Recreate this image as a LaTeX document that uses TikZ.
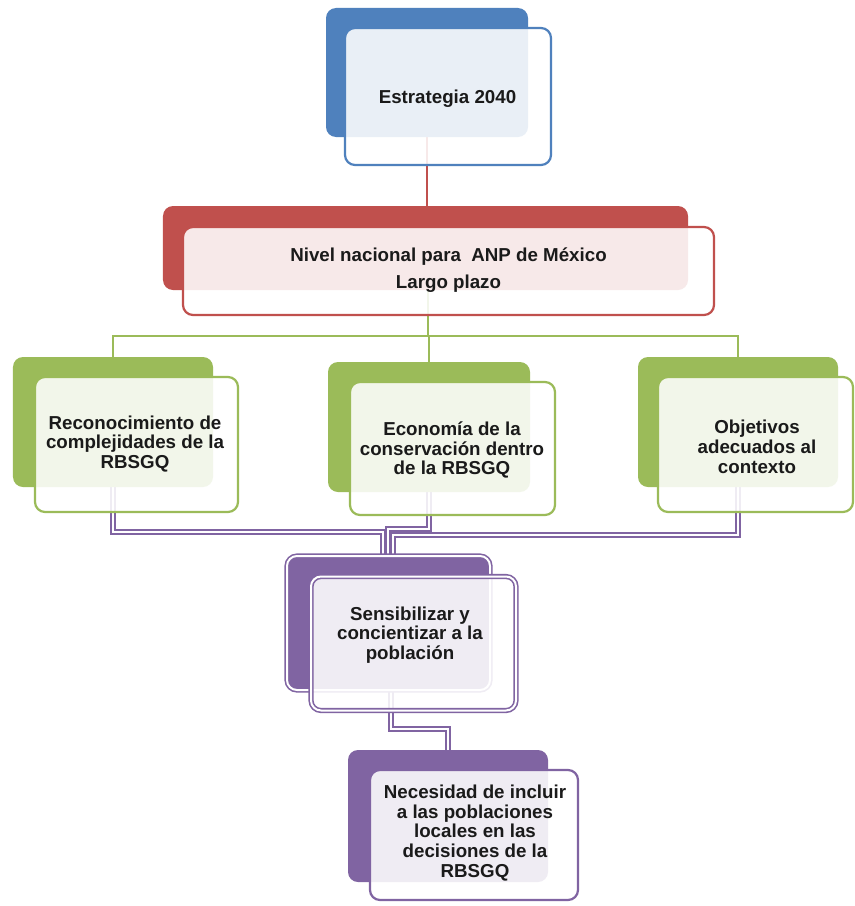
\documentclass[tikz,border=0pt]{standalone}
\usepackage{fontspec}
\setmainfont{Liberation Sans}
\definecolor{cblue}{HTML}{4F81BD}
\definecolor{cred}{HTML}{C0504D}
\definecolor{cgreen}{HTML}{9BBB59}
\definecolor{cpurple}{HTML}{8064A2}
\definecolor{ctext}{HTML}{1A1A1A}
\newcommand\boxfont{\bfseries\fontsize{18.8}{19.8}\selectfont\lineskiplimit=-20pt\lineskip=0pt}
\pgfdeclarelayer{paper}
\pgfdeclarelayer{links}
\pgfsetlayers{paper,links,main}
\tikzset{
  backbox/.style={rectangle, rounded corners=10bp, fill=#1, draw=none, inner sep=0pt},
  frontbox/.style={rectangle, rounded corners=10bp, draw=#1, line width=2.2bp,
    fill=white, fill opacity=0.88, inner sep=0pt},
  lbl/.style={text=ctext, align=center, font=\boxfont, inner sep=0pt},
  link/.style={draw=#1, line width=2.2bp},
  dlink/.style={draw=cpurple, line width=1.6bp, double=white, double distance=2.2bp},
  dbox/.style={double=white, double distance=2bp, line width=1.6bp, draw=cpurple},
}
\begin{document}
\begin{tikzpicture}[x=1bp, y=-1bp]
\useasboundingbox (0,0) rectangle (855,906);
\begin{pgfonlayer}{paper}
  \fill[white] (0,0) rectangle (855,906);
\end{pgfonlayer}

% ---- back shapes -------------------------------------------------
\node[backbox=cblue,   minimum width=202bp, minimum height=129bp] (topbk) at (427,72.5) {};
\node[backbox=cred,    minimum width=525bp, minimum height=84bp]  (redbk) at (425.5,248) {};
\node[backbox=cgreen,  minimum width=200bp, minimum height=130bp] (g1bk)  at (113,422) {};
\node[backbox=cgreen,  minimum width=202bp, minimum height=130bp] (g2bk)  at (429,427) {};
\node[backbox=cgreen,  minimum width=200bp, minimum height=130bp] (g3bk)  at (738,422) {};
\node[backbox=cpurple, dbox, minimum width=203bp, minimum height=134bp] (p1bk) at (388.5,623) {};
\node[backbox=cpurple, minimum width=200bp, minimum height=132bp] (p2bk)  at (448,816) {};

% ---- connectors, kept beneath every panel -------------------------
\coordinate (gbus) at (428,336);
\coordinate (plft) at (383,532);
\coordinate (pmid) at (388,529);
\coordinate (prgt) at (393,535);
\coordinate (pbot) at (391,729);

\begin{pgfonlayer}{links}
  \draw[link=cred]   (topbk.center) -- (topbk.center |- redbk.center);
  \draw[link=cgreen] (redbk.center -| gbus) -- (gbus) -| (g1bk.center);
  \draw[link=cgreen] (gbus) -| (g3bk.center);
  \draw[link=cgreen] (gbus) -| (g2bk.center);
  \draw[dlink] (g1bk.center) |- (plft) -- (plft |- p1bk.center);
  \draw[dlink] (g2bk.center) |- (pmid) -- (pmid |- p1bk.center);
  \draw[dlink] (g3bk.center) |- (prgt) -- (prgt |- p1bk.center);
  \draw[dlink] (p1bk.center -| pbot) -- (pbot) -| (p2bk.center);
\end{pgfonlayer}

% ---- front panels --------------------------------------------------
\node[frontbox=cblue,   minimum width=206bp, minimum height=137bp] (topfr) at (448,96.5) {};
\node[frontbox=cred,    minimum width=531bp, minimum height=88bp]  (redfr) at (448.5,271) {};
\node[frontbox=cgreen,  minimum width=203bp, minimum height=135bp] (g1fr)  at (136.5,444.5) {};
\node[frontbox=cgreen,  minimum width=205bp, minimum height=133bp] (g2fr)  at (452.5,448.5) {};
\node[frontbox=cgreen,  minimum width=195bp, minimum height=135bp] (g3fr)  at (755.5,444.5) {};
\node[frontbox=cpurple, dbox, fill=white, minimum width=205bp, minimum height=134bp] (p1fr) at (413.5,643.5) {};
\node[frontbox=cpurple, minimum width=208bp, minimum height=130bp] (p2fr)  at (474,835) {};

% ---- texts ---------------------------------------------------------
\node[lbl] (topt) at (447.5,99) {Estrategia 2040};
\node[lbl] (redt) at (448.5,270) {Nivel nacional para\ \ ANP de México\\[8bp]Largo plazo};
\node[lbl] (g1t)  at (135,444) {Reconocimiento de\\complejidades de la\\RBSGQ};
\node[lbl] (g2t)  at (452,450) {Economía de la\\conservación dentro\\de la RBSGQ};
\node[lbl] (g3t)  at (757,447) {Objetivos\\adecuados al\\contexto};
\node[lbl] (p1t)  at (410,635) {Sensibilizar y\\concientizar a la\\población};
\node[lbl] (p2t)  at (475,833) {Necesidad de incluir\\a las poblaciones\\locales en las\\decisiones de la\\RBSGQ};
\end{tikzpicture}
\end{document}
